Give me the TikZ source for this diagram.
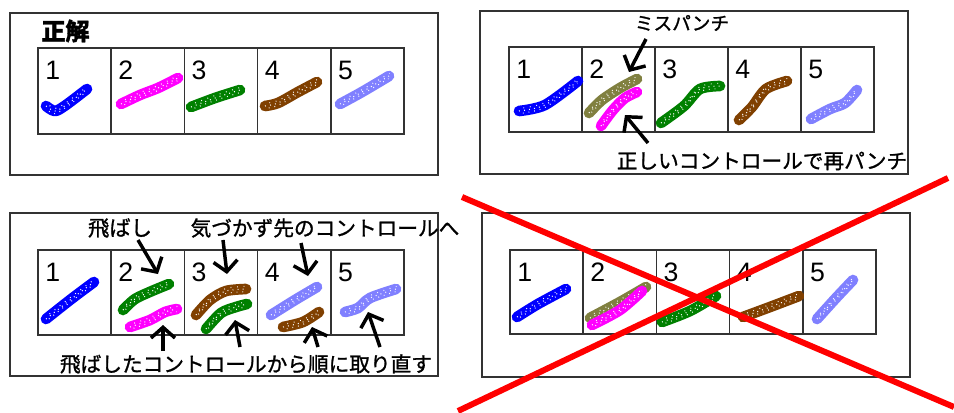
\documentclass[tikz,border=0pt]{standalone}
\usepackage{fontspec}
\setmainfont{Liberation Sans}
\newfontfamily\jp{Noto Sans CJK JP}[FakeBold=1.2]
\usetikzlibrary{arrows.meta}
\definecolor{cblue}{HTML}{0000FF}
\definecolor{cmag}{HTML}{FF00FF}
\definecolor{cgreen}{HTML}{008000}
\definecolor{cbrown}{HTML}{804000}
\definecolor{clblue}{HTML}{8080FF}
\definecolor{colive}{HTML}{808040}
\definecolor{cframe}{HTML}{333333}
\newcommand\cellrow[5]{%
  \foreach \i in {1,...,5}{%
    \pgfmathsetmacro\cx{#2+(\i-1)*#4}%
    \draw[cellbox] (\cx,#3) rectangle ++(#4,#5);
    \node[num] (#1\i) at (\cx+7,#3+31) {\i};
  }}
\newcommand\sprayline[2]{%
  \draw[spray=#1] plot[smooth] coordinates {#2};
  \draw[speck,dash pattern=on 0.7pt off 3.1pt] plot[smooth] coordinates {#2};
  \draw[speck,dash pattern=on 0.6pt off 4.3pt,dash phase=2pt,transform canvas={shift={(0.4pt,2pt)}}] plot[smooth] coordinates {#2};
  \draw[speck,dash pattern=on 0.6pt off 3.7pt,dash phase=1pt,transform canvas={shift={(-0.4pt,-2pt)}}] plot[smooth] coordinates {#2};
}
\begin{document}
\begin{tikzpicture}[x=0.75pt,y=-0.75pt,
  frame/.style={draw=cframe,line width=1.1pt},
  cellbox/.style={draw=cframe,line width=1.1pt},
  num/.style={font=\fontsize{20}{20}\selectfont,anchor=base west,inner sep=0pt},
  lbl/.style={font=\jp\fontsize{15.5}{16}\selectfont,inner sep=0pt},
  spray/.style={draw=#1,line width=8pt,line cap=round,line join=round},
  speck/.style={draw=white,line width=0.8pt},
  arr/.style={draw=black,line width=2.6pt,-{Straight Barb[length=8pt,width=18pt]}},
  redx/.style={draw=red,line width=4.5pt}]
\useasboundingbox (0,0) rectangle (954,412);
\fill[white] (0,0) rectangle (954,412);

% ---------- panel 1 : correct ----------
\draw[frame] (10,13) rectangle (438,175);
\node[font=\jp\bfseries\fontsize{18}{18}\selectfont,inner sep=0pt] (title) at (65.5,31) {正解};
\cellrow{a}{38}{48}{73.2}{86}
\sprayline{cblue}{(46,106) (55,111) (66,105) (87,89)}
\sprayline{cmag}{(121,104) (140,95) (158,88) (178,78)}
\sprayline{cgreen}{(191,107) (215,98) (240,90)}
\sprayline{cbrown}{(265,106) (278,103) (298,92) (317,82)}
\sprayline{clblue}{(340,104) (362,92) (389,76)}

% ---------- panel 2 : mis-punch ----------
\draw[frame] (480,11) rectangle (908,174);
\cellrow{b}{509}{47}{73}{85}
\sprayline{cblue}{(519,111) (545,105) (578,81)}
\sprayline{colive}{(589,113) (602,100) (620,88) (637,79)}
\sprayline{cmag}{(601,126) (613,110) (625,98) (637,92)}
\sprayline{cgreen}{(661,123) (684,106) (700,89) (720,86)}
\sprayline{cbrown}{(739,120) (752,107) (766,89) (787,81)}
\sprayline{clblue}{(811,119) (830,109) (845,103) (857,90)}
\node[lbl,font=\jp\fontsize{14}{14}\selectfont] (miss) at (682,23) {ミスパンチ};
\node[lbl] (repunch) at (762,161) {正しいコントロールで再パンチ};
\coordinate (m1) at (646,39);  \coordinate (m2) at (629,72);
\coordinate (r1) at (648,143); \coordinate (r2) at (625,115);
\draw[arr] (m1) -- (m2);
\draw[arr] (r1) -- (r2);

% ---------- panel 3 : skip ----------
\draw[frame] (10,213) rectangle (438,376);
\cellrow{c}{38}{250}{73.2}{85}
\sprayline{cblue}{(46,319) (70,300) (94,282)}
\sprayline{cgreen}{(123,310) (135,299) (152,291) (169,284)}
\sprayline{cmag}{(130,327) (150,320) (165,312) (177,309)}
\sprayline{cbrown}{(196,315) (210,300) (226,291) (246,289)}
\sprayline{cgreen}{(206,329) (221,313) (236,307) (247,304)}
\sprayline{clblue}{(271,315) (295,300) (317,287)}
\sprayline{cbrown}{(283,327) (303,322) (319,312)}
\sprayline{clblue}{(345,312) (358,308) (370,298) (396,289)}
\node[lbl,font=\jp\fontsize{16}{16}\selectfont] (skip) at (120,228) {飛ばし};
\node[lbl] (unaware) at (325,228) {気づかず先のコントロールへ};
\node[lbl] (redo) at (246,364) {飛ばしたコントロールから順に取り直す};
\coordinate (s1) at (138,240); \coordinate (s2) at (158,274);
\coordinate (u1) at (223,240); \coordinate (u2) at (227,274);
\coordinate (v1) at (301,243); \coordinate (v2) at (308,276);
\coordinate (w1) at (163,351); \coordinate (w2) at (163,325);
\coordinate (x1) at (240,347); \coordinate (x2) at (235,320);
\coordinate (y1) at (318,347); \coordinate (y2) at (312,327);
\coordinate (z1) at (380,347); \coordinate (z2) at (368,312);
\draw[arr] (s1) -- (s2);
\draw[arr] (u1) -- (u2);
\draw[arr] (v1) -- (v2);
\draw[arr] (w1) -- (w2);
\draw[arr] (x1) -- (x2);
\draw[arr] (y1) -- (y2);
\draw[arr] (z1) -- (z2);

% ---------- panel 4 : wrong ----------
\draw[frame] (482,213) rectangle (910,377);
\cellrow{d}{510}{250}{73.2}{84}
\sprayline{cblue}{(517,317) (538,304) (566,289)}
\sprayline{colive}{(590,318) (620,302) (646,287)}
\sprayline{cmag}{(592,325) (620,310) (642,291)}
\sprayline{cgreen}{(662,322) (690,311) (716,296)}
\sprayline{cbrown}{(743,317) (770,307) (799,296)}
\sprayline{clblue}{(817,319) (836,298) (853,280)}
\draw[redx] (462,197) -- (954,407);
\draw[redx] (458,411) -- (948,178);
\end{tikzpicture}
\end{document}
